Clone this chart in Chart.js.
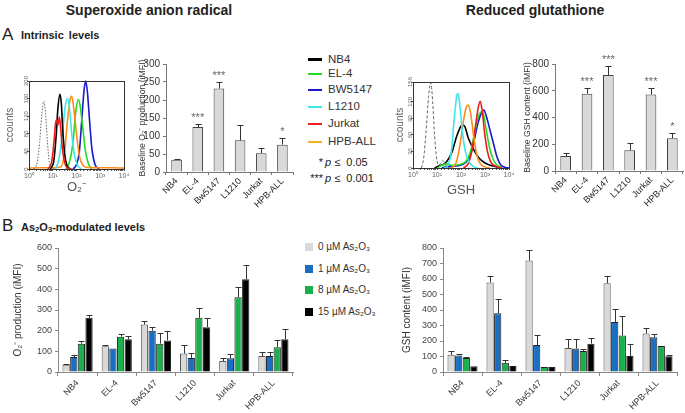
<!DOCTYPE html>
<html>
<head>
<meta charset="utf-8">
<script src="https://cdn.jsdelivr.net/npm/chart.js@4.4.0/dist/chart.umd.min.js"></script>
<style>
  body { margin: 0; width: 685px; height: 413px; position: relative; overflow: hidden; background: #fff;
         font-family: "Liberation Sans", Arial, sans-serif; color: #222; }
  .t { position: absolute; white-space: nowrap; line-height: 1; }
  .mid { transform: translate(-50%, -50%); }
  .vmid { transform: translateY(-50%); }
  sub { font-size: 70%; vertical-align: -0.25em; line-height: 0; }
</style>
</head>
<body>
<div class="t mid" style="left:149px;top:10px;font-weight:bold;font-size:14px">Superoxide anion radical</div>
<div class="t mid" style="left:535px;top:10px;font-weight:bold;font-size:14px">Reduced glutathione</div>
<div class="t vmid" style="left:2px;top:34px;font-size:17px">A</div>
<div class="t vmid" style="left:21px;top:35px;font-weight:bold;font-size:11px;word-spacing:2px">Intrinsic levels</div>
<div class="t vmid" style="left:2px;top:225px;font-size:17px">B</div>
<div class="t vmid" style="left:21px;top:227px;font-weight:bold;font-size:11px">As<sub>2</sub>O<sub>3</sub>-modulated levels</div>
<div class="t vmid" style="left:302px;top:162px;font-size:11px;width:21px;text-align:right">*</div>
<div class="t vmid" style="left:325px;top:162px;font-size:11px"><i>p</i> ≤ &nbsp;0.05</div>
<div class="t vmid" style="left:302px;top:178px;font-size:11px;width:21px;text-align:right">***</div>
<div class="t vmid" style="left:325px;top:178px;font-size:11px"><i>p</i> ≤ &nbsp;0.001</div>

<script>
// ---- data ----
const cells = ['NB4', 'EL-4', 'Bw5147', 'L1210', 'Jurkat', 'HPB-ALL'];
const legendCells = ['NB4', 'EL-4', 'BW5147', 'L1210', 'Jurkat', 'HPB-ALL'];
const cellColors = ['#000000', '#22dd22', '#1a1acc', '#3ee8ea', '#ee1c1c', '#ff8c1a'];
const legendColors = ['#000000', '#22dd22', '#1a1acc', '#3ee8ea', '#ee1c1c', '#f2b21e'];
const decadeLabels = ['10⁰', '10¹', '10²', '10³', '10⁴'];

// intrinsic levels (baseline bars, error bar tops, significance)
const o2Base = [34, 125, 232, 88, 52, 76];
const o2BaseErr = [36, 133, 250, 130, 66, 95];
const o2Stars = ['', '***', '***', '', '', '*'];
const gshBase = [112, 578, 718, 155, 572, 245];
const gshBaseErr = [133, 620, 782, 212, 618, 285];
const gshStars = ['', '***', '***', '', '***', '*'];

// As2O3 doses
const doses = ['0 µM As₂O₃', '1 µM As₂O₃', '8 µM As₂O₃', '15 µM As₂O₃'];
const doseColors = ['#d9d9d9', '#1a6fc2', '#1caf4e', '#000000'];

const o2At0 = [35, 124, 230, 89, 53, 77];
const o2At0Err = [37, 129, 248, 129, 67, 97];
const o2At1 = [72, 114, 200, 68, 67, 77];
const o2At1Err = [84, 114, 216, 93, 85, 97];
const o2At8 = [137, 171, 137, 262, 362, 120];
const o2At8Err = [148, 182, 188, 309, 410, 155];
const o2At15 = [262, 158, 153, 217, 449, 159];
const o2At15Err = [277, 175, 198, 259, 517, 208];

const gshAt0 = [111, 578, 719, 155, 573, 248];
const gshAt0Err = [135, 619, 784, 211, 621, 287];
const gshAt1 = [107, 379, 174, 151, 323, 224];
const gshAt1Err = [113, 473, 238, 211, 409, 244];
const gshAt8 = [90, 59, 33, 136, 235, 168];
const gshAt8Err = [98, 76, 33, 151, 362, 168];
const gshAt15 = [37, 39, 33, 183, 103, 101];
const gshAt15Err = [37, 39, 33, 222, 179, 112];

// flow cytometry histograms: [fluorescence, counts]
const o2Control = [[1.6,0],[2.2,15],[2.8,60],[3.4,120],[4.2,154],[5.0,125],[6.0,60],[7.2,15],[8.9,2],[12.6,0]];
const o2Curves = {
  'Jurkat': [[6.3,0],[8.9,15],[11.2,60],[13.2,105],[15.1,112],[16.6,100],[19.1,118],[21.4,95],[25.1,50],[31.6,15],[39.8,3],[63,0]],
  'NB4': [[7.9,0],[11.2,20],[14.1,80],[16.6,140],[20,170],[22.9,150],[26.3,90],[31.6,35],[39.8,8],[56,0]],
  'L1210': [[12.6,0],[17.8,20],[25.1,75],[33.1,140],[41.7,160],[50.1,140],[63.1,80],[83.2,30],[112,8],[158,0]],
  'HPB-ALL': [[1,2],[3.16,3],[10,3],[22.4,5],[31.6,40],[41.7,110],[52.5,155],[63.1,165],[75.9,140],[100,80],[132,30],[178,10],[251,4],[1000,3],[3162,3],[10000,2]],
  'EL-4': [[35.5,0],[50.1,15],[70.8,60],[93.3,130],[117.5,158],[141,145],[178,100],[240,40],[316,12],[447,0]],
  'BW5147': [[70.8,0],[100,10],[132,40],[166,110],[209,180],[245,200],[288,175],[355,110],[447,45],[603,10],[891,0]]
};
const gshControl = [[2.24,0],[2.82,20],[3.55,70],[4.47,130],[5.5,155],[6.6,120],[7.9,60],[9.5,20],[12,5],[14.1,8],[16.6,14],[20,10],[25.1,3],[39.8,0]];
const gshCurves = {
  'L1210': [[20,0],[28.2,5],[39.8,30],[52.5,90],[66.1,130],[75.9,135],[89.1,115],[112,70],[151,30],[224,10],[355,2],[501,0]],
  'HPB-ALL': [[39.8,0],[63.1,10],[89.1,40],[126,85],[166,110],[200,114],[251,100],[331,60],[447,25],[631,8],[1000,2],[1585,0]],
  'Jurkat': [[126,0],[200,8],[282,30],[398,75],[525,110],[631,121],[759,105],[955,65],[1259,30],[1778,10],[2818,3],[5012,0]],
  'EL-4': [[10,0],[17.8,6],[25.1,8],[39.8,5],[79.4,6],[158,12],[251,30],[355,60],[501,90],[708,102],[891,95],[1122,70],[1585,35],[2239,15],[3162,5],[5012,1]],
  'BW5147': [[15.8,0],[31.6,3],[79.4,4],[158,10],[251,25],[355,50],[501,80],[708,100],[891,105],[1122,95],[1585,70],[2239,45],[3162,20],[4467,6],[7079,1],[10000,0]],
  'NB4': [[7.9,0],[12.6,4],[20.9,8],[31.6,18],[44.7,32],[63.1,55],[89.1,72],[112,78],[141,76],[200,55],[282,40],[398,28],[562,18],[1000,9],[1995,4],[3981,1]]
};

// ---- helpers ----
Chart.defaults.font.family = '"Liberation Sans", Arial, sans-serif';
Chart.defaults.color = '#333';

const errorBars = {
  id: 'errorBars',
  afterDatasetsDraw(chart) {
    const ctx = chart.ctx, y = chart.scales.y;
    chart.data.datasets.forEach((ds, i) => {
      if (!ds.errTop) return;
      chart.getDatasetMeta(i).data.forEach((bar, j) => {
        const top = ds.errTop[j];
        if (top <= ds.data[j]) return;
        const x = Math.round(bar.x) + 0.5, yp = Math.round(y.getPixelForValue(top)) + 0.5;
        ctx.save();
        ctx.strokeStyle = '#333';
        ctx.lineWidth = 1;
        ctx.beginPath();
        ctx.moveTo(x, bar.y);
        ctx.lineTo(x, yp);
        ctx.moveTo(x - 3, yp);
        ctx.lineTo(x + 3, yp);
        ctx.stroke();
        ctx.restore();
      });
    });
  }
};

const starMarks = {
  id: 'starMarks',
  afterDatasetsDraw(chart) {
    const ctx = chart.ctx, y = chart.scales.y;
    chart.data.datasets.forEach((ds, i) => {
      if (!ds.stars) return;
      chart.getDatasetMeta(i).data.forEach((bar, j) => {
        if (!ds.stars[j]) return;
        ctx.save();
        ctx.fillStyle = '#666';
        ctx.font = '11px "Liberation Sans", Arial, sans-serif';
        ctx.textAlign = 'center';
        ctx.textBaseline = 'middle';
        ctx.fillText(ds.stars[j], bar.x, y.getPixelForValue(ds.errTop[j]) - 6);
        ctx.restore();
      });
    });
  }
};

const frame = {
  id: 'frame',
  afterDraw(chart) {
    const a = chart.chartArea, ctx = chart.ctx;
    ctx.save();
    ctx.strokeStyle = '#333';
    ctx.lineWidth = 1;
    ctx.strokeRect(Math.round(a.left) + 0.5, Math.round(a.top) + 0.5, Math.round(a.right - a.left), Math.round(a.bottom - a.top));
    ctx.restore();
  }
};

// box = [left, top, width, height] of canvas, area = [left, top, right, bottom] of plot
function mount(box, area, config) {
  const cv = document.createElement('canvas');
  cv.width = box[2];
  cv.height = box[3];
  cv.style.cssText = `position:absolute;left:${box[0]}px;top:${box[1]}px;width:${box[2]}px;height:${box[3]}px`;
  document.body.appendChild(cv);
  const o = config.options;
  o.responsive = false;
  o.animation = false;
  o.layout = { padding: { left: 0, top: area[1] - box[1], right: box[0] + box[2] - area[2], bottom: 0 } };
  o.scales.x.afterFit = s => { s.height = box[1] + box[3] - area[3]; };
  o.scales.y.afterFit = s => { s.width = area[0] - box[0]; };
  o.plugins = Object.assign({ legend: { display: false }, tooltip: { enabled: false } }, o.plugins || {});
  return new Chart(cv, config);
}

function histChart(box, area, control, dash, curves, yMax, yStep, xTitle) {
  const datasets = [{
    data: control.map(p => ({ x: p[0], y: p[1] })),
    borderColor: '#666', borderDash: dash, borderWidth: 1
  }];
  Object.keys(curves).forEach(name => {
    datasets.push({
      data: curves[name].map(p => ({ x: p[0], y: p[1] })),
      borderColor: cellColors[legendCells.indexOf(name)], borderWidth: 1.6
    });
  });
  datasets.forEach(d => { d.showLine = true; d.pointRadius = 0; d.cubicInterpolationMode = 'monotone'; });
  return mount(box, area, {
    type: 'scatter',
    data: { datasets },
    options: {
      clip: false,
      scales: {
        x: {
          type: 'logarithmic', min: 1, max: 10000,
          border: { display: false },
          grid: { drawOnChartArea: false, tickLength: 2, color: '#555' },
          ticks: {
            autoSkip: false, maxRotation: 0, padding: 1, color: '#666', font: { size: 7 },
            callback: v => { const e = Math.log10(v); return Math.abs(e - Math.round(e)) < 1e-6 ? decadeLabels[Math.round(e)] : ''; }
          },
          title: { display: true, text: xTitle, color: '#555', font: { size: 13 }, padding: { top: 0, bottom: 0 } }
        },
        y: {
          min: 0, max: yMax,
          border: { display: false },
          grid: { drawOnChartArea: false, tickLength: 2, color: '#555' },
          ticks: { stepSize: yStep, minRotation: 90, maxRotation: 90, crossAlign: 'center', padding: -4, color: '#666', font: { size: 6 } },
          title: { display: true, text: 'ccounts', color: '#666', font: { size: 10 }, padding: { top: 0, bottom: 0 } }
        }
      }
    },
    plugins: [frame]
  });
}

function baseChart(box, area, values, errs, stars, yMax, yStep, yTitle) {
  return mount(box, area, {
    type: 'bar',
    data: {
      labels: cells,
      datasets: [{
        data: values, errTop: errs, stars: stars,
        backgroundColor: '#d9d9d9', borderColor: '#404040', borderWidth: 1,
        barPercentage: 0.5, categoryPercentage: 1
      }]
    },
    options: {
      scales: {
        x: {
          border: { color: '#777' },
          grid: { drawOnChartArea: false, tickLength: 3, color: '#777' },
          ticks: { minRotation: 45, maxRotation: 45, padding: 1, color: '#222', font: { size: 9 } }
        },
        y: {
          min: 0, max: yMax,
          border: { color: '#777' },
          grid: { drawOnChartArea: false, tickLength: 3, color: '#777' },
          ticks: { stepSize: yStep, padding: 3, color: '#333', font: { size: 10 } },
          title: { display: true, text: yTitle, color: '#333', font: { size: 8.7 }, padding: { top: 0, bottom: 0 } }
        }
      }
    },
    plugins: [errorBars, starMarks]
  });
}

function doseChart(box, area, sets, errs, yMax, yTitle) {
  return mount(box, area, {
    type: 'bar',
    data: {
      labels: cells,
      datasets: sets.map((s, i) => ({
        label: doses[i], data: s, errTop: errs[i],
        backgroundColor: doseColors[i], borderColor: i === 0 ? '#555' : '#222', borderWidth: 1,
        barPercentage: 0.95, categoryPercentage: 0.78
      }))
    },
    options: {
      scales: {
        x: {
          border: { color: '#888' },
          grid: { drawOnChartArea: false, tickLength: 4, color: '#888' },
          ticks: { minRotation: 45, maxRotation: 45, padding: 2, color: '#333', font: { size: 9 } }
        },
        y: {
          min: 0, max: yMax,
          border: { color: '#888' },
          grid: { drawOnChartArea: false, tickLength: 3, color: '#888' },
          ticks: { stepSize: 50, padding: 3, color: '#444', font: { size: 9 }, callback: v => v % 100 === 0 ? v : '' },
          title: { display: true, text: yTitle, color: '#333', font: { size: 10 }, padding: { top: 0, bottom: 0 } }
        }
      }
    },
    plugins: [errorBars]
  });
}

// ---- panel A ----
histChart([4, 71, 130, 124], [29, 81, 124, 169], o2Control, [1.5, 1.5], o2Curves, 200, 40, 'O₂⁻');
baseChart([137, 54, 161, 161], [166, 64, 293, 172], o2Base, o2BaseErr, o2Stars, 300, 50, 'Baseline O₂⁻ production (iMFI)');
histChart([394, 72, 125, 126], [413, 82, 509, 168], gshControl, [3, 2], gshCurves, 156, 30, 'GSH');
baseChart([522, 54, 163, 161], [555, 64, 683, 171], gshBase, gshBaseErr, gshStars, 800, 100, 'Baseline GSH content (iMFI)');

// ---- panel B ----
doseChart([12, 238, 285, 175], [58, 248, 293, 372], [o2At0, o2At1, o2At8, o2At15], [o2At0Err, o2At1Err, o2At8Err, o2At15Err], 600, 'O₂⁻ production (iMFI)');
doseChart([401, 238, 280, 175], [443, 248, 677, 372], [gshAt0, gshAt1, gshAt8, gshAt15], [gshAt0Err, gshAt1Err, gshAt8Err, gshAt15Err], 800, 'GSH content (iMFI)');

// ---- legends ----
const legendRows = [59.5, 74, 90, 107, 124, 142];
legendCells.forEach((name, i) => {
  const line = document.createElement('div');
  line.style.cssText = `position:absolute;left:308px;top:${legendRows[i] - 1.25}px;width:14px;height:2.5px;background:${legendColors[i]}`;
  document.body.appendChild(line);
  const t = document.createElement('div');
  t.className = 't vmid';
  t.style.cssText = `left:328px;top:${legendRows[i]}px;font-size:11.5px;color:#333`;
  t.textContent = name;
  document.body.appendChild(t);
});
const doseRows = [247, 268.5, 290, 312];
doses.forEach((name, i) => {
  const sq = document.createElement('div');
  sq.style.cssText = `position:absolute;left:305px;top:${doseRows[i] - 4}px;width:8px;height:8px;background:${doseColors[i]}`;
  document.body.appendChild(sq);
  const t = document.createElement('div');
  t.className = 't vmid';
  t.style.cssText = `left:318px;top:${doseRows[i]}px;font-size:10px;color:#333`;
  t.textContent = name;
  document.body.appendChild(t);
});
</script>
</body>
</html>
